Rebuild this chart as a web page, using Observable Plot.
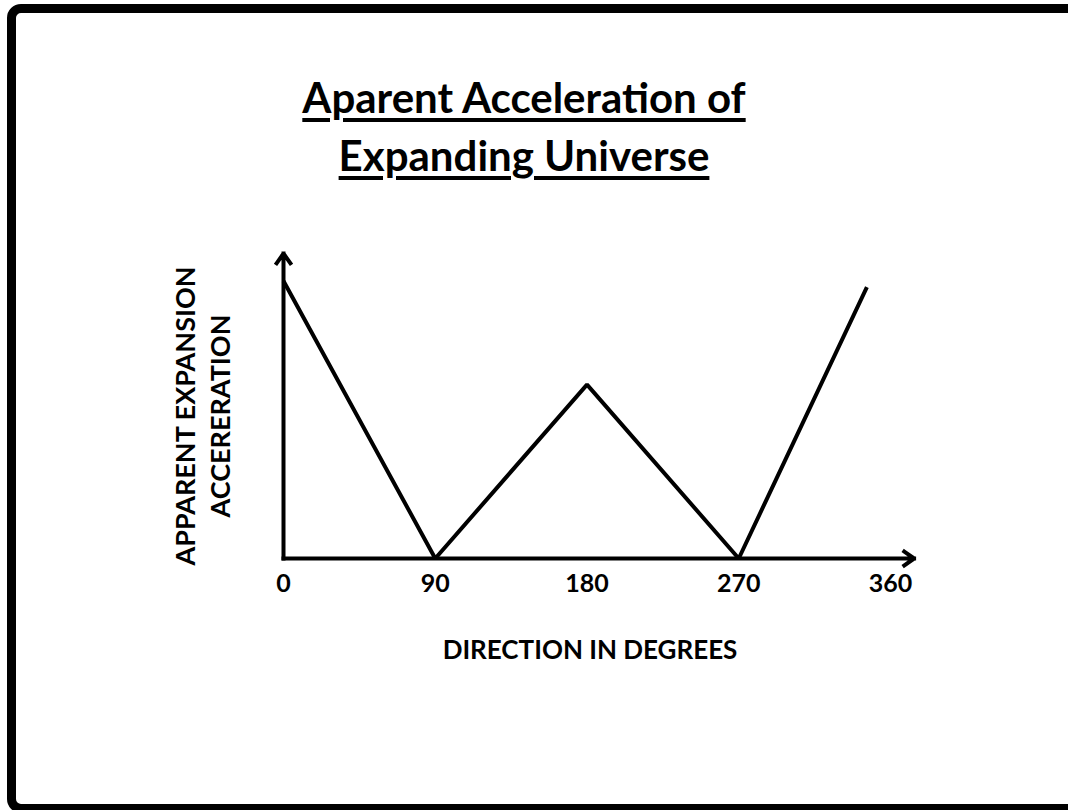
<!DOCTYPE html>
<html>
<head>
<meta charset="utf-8">
<script src="https://cdn.jsdelivr.net/npm/d3@7"></script>
<script src="https://cdn.jsdelivr.net/npm/@observablehq/plot@0.6"></script>
<style>
  html, body { margin: 0; padding: 0; background: #fff; }
  #page { position: relative; width: 1068px; height: 810px; overflow: hidden; background: #fff; }
  #border { position: absolute; left: 7px; top: 4px; width: 1120px; height: 809px; border: 9px solid #000; border-radius: 14px; box-sizing: border-box; pointer-events: none; }
  #title { position: relative; width: 1048px; height: 200px; box-sizing: border-box; padding-top: 68px; text-align: center;
    font-family: Lato, "Open Sans", sans-serif; font-weight: 700; font-size: 42px; line-height: 58px; color: #000; }
  #title span { text-decoration: underline; text-decoration-thickness: 4px; text-underline-offset: 5px; }
  #chart { position: relative; }
  #chart svg { display: block; }
</style>
</head>
<body>
<div id="page">
  <div id="border"></div>
  <div id="title"><span>Aparent Acceleration of</span><br><span>Expanding Universe</span></div>
  <div id="chart"></div>
</div>
<script>
// ---- data ----
const directions = [0, 90, 180, 270, 346];          // degrees
const acceleration = [91, 0, 57, 0, 89];            // apparent expansion acceleration (arbitrary units)
const xTicks = [0, 90, 180, 270, 360];
const xAxisEnd = 374;
const yAxisEnd = 100;
const xLabel = "DIRECTION IN DEGREES";
const yLabel = "APPARENT EXPANSION\nACCERERATION";

const points = directions.map((d, i) => ({dir: d, acc: acceleration[i]}));
const axes = [
  {x1: 0, y1: 0, x2: 0, y2: yAxisEnd},
  {x1: 0, y1: 0, x2: xAxisEnd, y2: 0}
];

const font = "Lato, 'Open Sans', sans-serif";

const chart = Plot.plot({
  width: 1068,
  height: 610,
  marginLeft: 283,
  marginRight: 178,
  marginTop: 53,
  marginBottom: 252,
  style: {fontFamily: font, background: "transparent", color: "#000"},
  x: {type: "linear", domain: [0, 360], axis: null},
  y: {type: "linear", domain: [0, yAxisEnd], axis: null},
  marks: [
    Plot.line(points, {x: "dir", y: "acc", stroke: "#000", strokeWidth: 4, strokeLinejoin: "miter", strokeLinecap: "butt"}),
    Plot.arrow(axes, {x1: "x1", y1: "y1", x2: "x2", y2: "y2", stroke: "#000", strokeWidth: 4,
      headLength: 4.5, headAngle: 70, strokeLinecap: "square", strokeLinejoin: "miter"}),
    Plot.text(xTicks, {x: d => d, y: () => 0, text: d => String(d), dy: 25, lineAnchor: "middle",
      fontSize: 25, fontWeight: 700, fill: "#000"}),
    Plot.text([xLabel], {frameAnchor: "bottom", text: d => d, dx: 3, dy: 92, textAnchor: "middle", lineAnchor: "middle",
      fontSize: 26, fontWeight: 700, fill: "#000"}),
    Plot.text([yLabel], {frameAnchor: "left", text: d => d, dx: -82, dy: 10, rotate: -90, textAnchor: "middle", lineAnchor: "middle",
      lineHeight: 1.3, fontSize: 27, fontWeight: 700, fill: "#000"})
  ]
});
document.getElementById("chart").appendChild(chart);
</script>
</body>
</html>
